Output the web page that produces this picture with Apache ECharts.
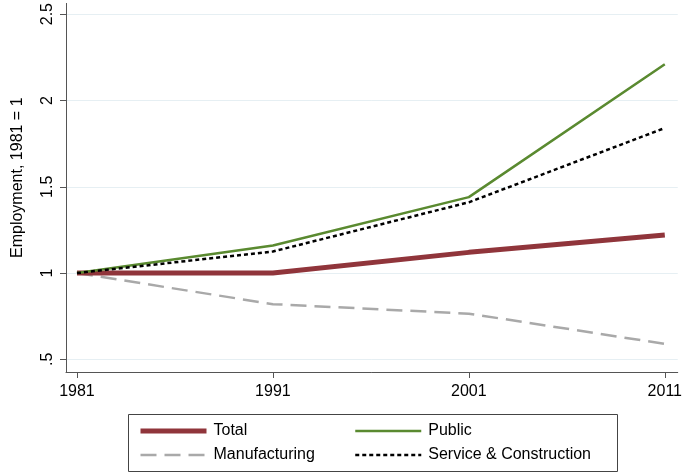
<!DOCTYPE html>
<html>
<head>
<meta charset="utf-8">
<script src="https://cdn.jsdelivr.net/npm/echarts@6/dist/echarts.min.js"></script>
<style>html,body{margin:0;padding:0;background:#fff}#c{width:685px;height:472px}</style>
</head>
<body>
<div id="c"></div>
<script>
var years = [1981, 1991, 2001, 2011];
var total = [1.0, 1.0, 1.12, 1.22];
var publicSec = [1.0, 1.16, 1.44, 2.21];
var manufacturing = [1.0, 0.82, 0.765, 0.59];
var serviceCons = [1.0, 1.125, 1.41, 1.84];
var yTicks = [0.5, 1, 1.5, 2, 2.5];
var seriesNames = ['Total', 'Public', 'Manufacturing', 'Service & Construction'];

function pairs(vals) { return years.map(function (y, i) { return [y, vals[i]]; }); }

var font = 'Liberation Sans, Arial, sans-serif';
var legendCommon = {
  orient: 'vertical', top: 418, itemWidth: 66, itemHeight: 16, itemGap: 8,
  itemStyle: {opacity: 0, borderWidth: 0},
  lineStyle: {width: 'inherit', type: 'inherit'},
  textStyle: {color: '#000', fontSize: 16, fontFamily: font, padding: [0, 0, 0, 2]}
};
var chart = echarts.init(document.getElementById('c'), null, {renderer: 'canvas'});
chart.setOption({
  animation: false,
  backgroundColor: '#fff',
  grid: {left: 66, right: 5, top: 3, bottom: 100},
  xAxis: {
    type: 'value', min: 1980.44, max: 2011.66,
    axisLine: {show: true, lineStyle: {color: '#555', width: 1}},
    axisTick: {show: true, length: 6, lineStyle: {color: '#555'}, customValues: years},
    axisLabel: {customValues: years, color: '#000', fontSize: 16, fontFamily: font, margin: 12,
      formatter: function (v) { return String(v); }},
    splitLine: {show: false}
  },
  yAxis: {
    type: 'value', min: 0.427, max: 2.562,
    name: 'Employment, 1981 = 1', nameLocation: 'middle', nameGap: 40,
    nameTextStyle: {color: '#000', fontSize: 16, fontFamily: font, padding: [0, 0, 0, 20]},
    axisLine: {show: true, lineStyle: {color: '#555', width: 1}},
    axisTick: {show: true, length: 6, lineStyle: {color: '#555'}, customValues: yTicks},
    axisLabel: {customValues: yTicks, rotate: 90, color: '#000', fontSize: 16, fontFamily: font, margin: 10,
      formatter: function (v) { return String(v).replace(/^0\./, '.'); }},
    splitLine: {show: true, lineStyle: {color: '#e6eff3', width: 1}}
  },
  legend: [
    Object.assign({}, legendCommon, {left: 133, data: ['Total', 'Manufacturing']}),
    Object.assign({}, legendCommon, {left: 349, data: ['Public', 'Service & Construction']})
  ],
  graphic: [{
    type: 'rect', left: 126, top: 412, shape: {width: 489, height: 57},
    style: {fill: 'none', stroke: '#444', lineWidth: 1}
  }],
  series: [{
    name: 'Manufacturing', type: 'line', data: pairs(manufacturing), symbol: 'none',
    itemStyle: {color: '#a9a9a9'},
    lineStyle: {color: '#a9a9a9', width: 2.5, type: [16, 8]}
  }, {
    name: 'Total', type: 'line', data: pairs(total), symbol: 'none',
    itemStyle: {color: '#90353b'},
    lineStyle: {color: '#90353b', width: 5}
  }, {
    name: 'Public', type: 'line', data: pairs(publicSec), symbol: 'none',
    itemStyle: {color: '#5a8a30'},
    lineStyle: {color: '#5a8a30', width: 2.5}
  }, {
    name: 'Service & Construction', type: 'line', data: pairs(serviceCons), symbol: 'none',
    itemStyle: {color: '#000'},
    lineStyle: {color: '#000', width: 2.5, type: [4, 3]}
  }]
});
</script>
</body>
</html>
